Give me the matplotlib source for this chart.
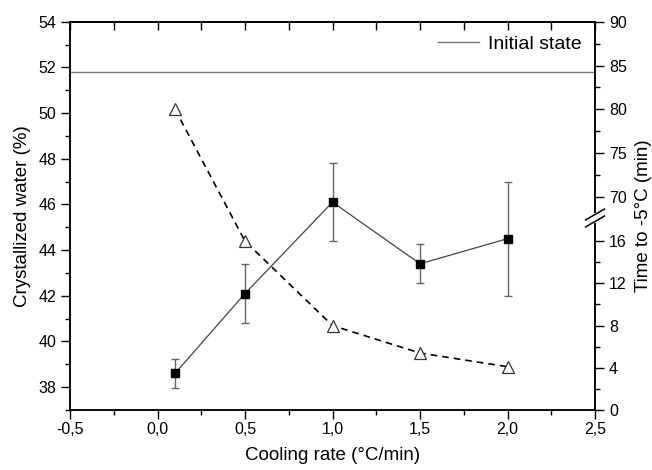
import matplotlib
matplotlib.use('Agg')
import matplotlib.pyplot as plt
import numpy as np
from matplotlib.ticker import FixedLocator, MultipleLocator, FuncFormatter

plt.rcParams['font.family'] = ['Liberation Sans', 'DejaVu Sans']

# Data
cooling_rate = [0.1, 0.5, 1.0, 1.5, 2.0]
crystallized_water = [38.6, 42.1, 46.1, 43.4, 44.5]
water_err = [0.65, 1.3, 1.7, 0.85, 2.5]
time_to_m5 = [80, 16, 8, 5.4, 4.1]
initial_state = 51.78

left_ticks = [38, 40, 42, 44, 46, 48, 50, 52, 54]
right_major = [0, 4, 8, 12, 16, 70, 75, 80, 85, 90]
right_minor = [2, 6, 10, 14, 72.5, 77.5, 82.5, 87.5]

# broken right axis: 0..18.2 below the break, 67.6..90 above it
_xp = [-1000, 0, 18.2, 67.6, 90, 1000]
_fp = [-1000 * 0.02717, 0, 0.4945, 0.4946, 1.0, 1.0 + 910 * 0.02253]


def _fwd(v):
    return np.interp(v, _xp, _fp)


def _inv(u):
    return np.interp(u, _fp, _xp)


def _comma(x, pos):
    return f'{x:.1f}'.replace('.', ',')


fig = plt.figure(figsize=(6.52, 4.70), dpi=100)
ax = fig.add_axes([0.1074, 0.1277, 0.8052, 0.8261])
ax2 = ax.twinx()

# Crystallized water with error bars
ax.errorbar(cooling_rate, crystallized_water, yerr=water_err,
            fmt='s-', color='#444444', lw=0.9, ms=6.3,
            mfc='black', mec='black', ecolor='#666666', elinewidth=1.0,
            capsize=2.9, capthick=1.0, zorder=3)
ax.axhline(initial_state, color='#777777', lw=1.0, label='Initial state')

# Time to -5 °C on the broken right axis
ax2.set_yscale('function', functions=(_fwd, _inv))
ax2.plot(cooling_rate, time_to_m5, linestyle=(0, (4, 3)), color='black', lw=1.2,
         marker='^', ms=8, mfc='white', mec='#333333', mew=0.9, zorder=3)
ax2.set_ylim(0, 90)

ax.set_xlim(-0.5, 2.5)
ax.set_ylim(37, 54)
ax.xaxis.set_major_locator(MultipleLocator(0.5))
ax.xaxis.set_minor_locator(MultipleLocator(0.25))
ax.xaxis.set_major_formatter(FuncFormatter(_comma))
ax.yaxis.set_major_locator(FixedLocator(left_ticks))
ax.yaxis.set_minor_locator(MultipleLocator(1))

ax2.yaxis.set_major_locator(FixedLocator(right_major))
ax2.yaxis.set_minor_locator(FixedLocator(right_minor))
ax2.yaxis.set_major_formatter(FuncFormatter(lambda v, p: f'{v:g}'))
ax2.yaxis.set_minor_formatter(FuncFormatter(lambda v, p: ''))

for a in (ax, ax2):
    a.tick_params(which='major', direction='out', length=6.5, width=1.0,
                  labelsize=11.5, colors='black')
    a.tick_params(which='minor', direction='out', length=3.5, width=1.0)
    for s in a.spines.values():
        s.set_linewidth(1.1)
ax.tick_params(axis='x', which='both', top=False)
ax.tick_params(axis='x', which='major', pad=2.5)

# top axis: inward ticks, no labels
sec = ax.secondary_xaxis('top')
sec.xaxis.set_major_locator(MultipleLocator(0.5))
sec.xaxis.set_minor_locator(MultipleLocator(0.25))
sec.tick_params(which='both', direction='in', length=5.5, width=1.0,
                labeltop=False)
sec.spines['top'].set_linewidth(1.1)

ax.set_xlabel('Cooling rate (°C/min)', fontsize=13.5, labelpad=7)
ax.set_ylabel('Crystallized water (%)', fontsize=13.5, labelpad=5)
ax2.set_ylabel('Time to -5°C (min)', fontsize=13.5, labelpad=6)

ax.legend(loc='upper right', frameon=False, fontsize=14, handlelength=2.1,
          handletextpad=0.45, borderaxespad=0.3)

# axis break marks on the right spine
ub = _fwd(18.2)
ax2.plot([1.0, 1.0], [ub - 0.012, ub + 0.012], transform=ax2.transAxes,
         color='white', lw=3, clip_on=False, zorder=5, solid_capstyle='butt')
for dy in (-0.009, 0.009):
    ax2.plot([0.982, 1.018], [ub + dy - 0.014, ub + dy + 0.014],
             transform=ax2.transAxes, color='black', lw=1.1,
             clip_on=False, zorder=6)

fig.savefig('out.png', dpi=100)
